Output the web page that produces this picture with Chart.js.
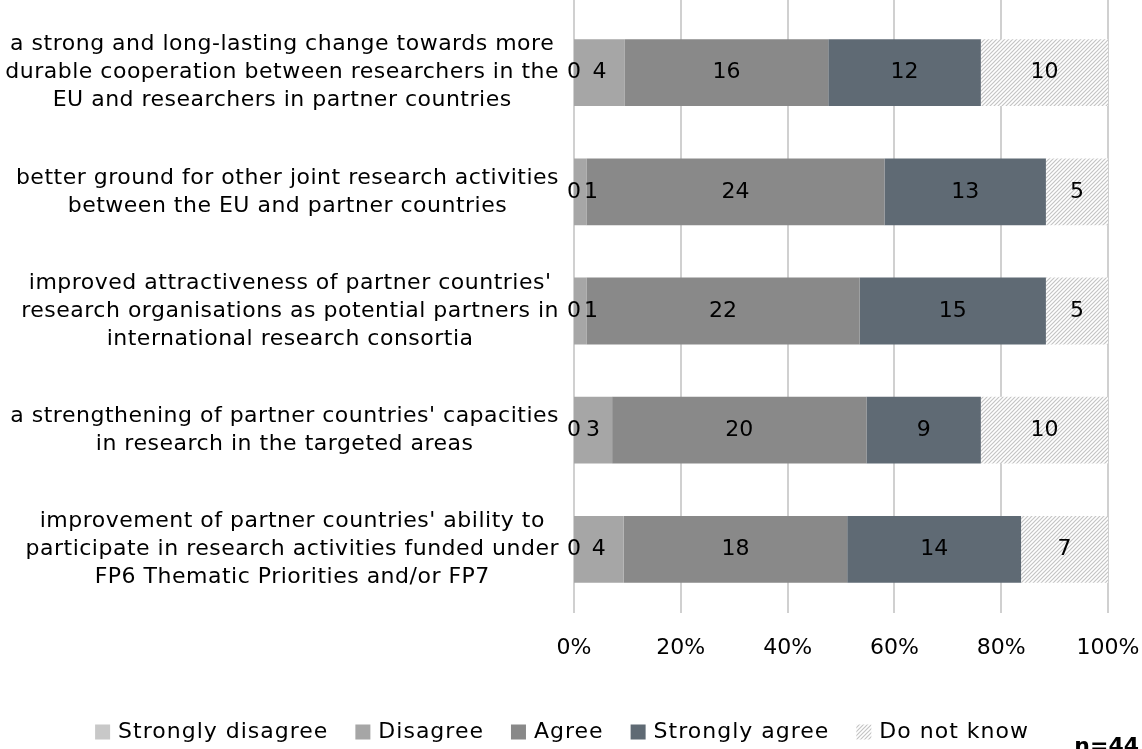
<!DOCTYPE html>
<html lang="en">
<head>
    <meta charset="UTF-8">
    <title>Partner countries survey</title>
    <style>
        html, body { margin: 0; padding: 0; background: #fff; }
        .chart-container { width: 1142px; height: 749px; position: relative; }
    </style>
</head>
<body>
    <div class="chart-container">
        <canvas id="surveyChart"></canvas>
    </div>

    <script src="https://cdn.jsdelivr.net/npm/chart.js@4.4.1/dist/chart.umd.js"></script>

    <script>
        // statements (y categories), one array of lines each
        const categories = [
            ['a strong and long-lasting change towards more', 'durable cooperation between researchers in the', 'EU and researchers in partner countries'],
            ['better ground for other joint research activities', 'between the EU and partner countries'],
            ["improved attractiveness of partner countries'", 'research organisations as potential partners in', 'international research consortia'],
            ["a strengthening of partner countries' capacities", 'in research in the targeted areas'],
            ["improvement of partner countries' ability to", 'participate in research activities funded under', 'FP6 Thematic Priorities and/or FP7']
        ];

        // answer counts per statement
        const stronglyDisagree = [0, 0, 0, 0, 0];
        const disagree = [4, 1, 1, 3, 4];
        const agree = [16, 24, 22, 20, 18];
        const stronglyAgree = [12, 13, 15, 9, 14];
        const doNotKnow = [10, 5, 5, 10, 7];

        const xTicks = [0, 20, 40, 60, 80, 100];
        const sampleSize = 'n=44';

        const FONT = '"DejaVu Sans", Verdana, sans-serif';

        function hatchPattern() {
            const c = document.createElement('canvas');
            c.width = 4; c.height = 4;
            const g = c.getContext('2d');
            g.fillStyle = '#ffffff';
            g.fillRect(0, 0, 4, 4);
            g.strokeStyle = '#c4c4c4';
            g.lineWidth = 1.2;
            g.beginPath();
            g.moveTo(0, 4); g.lineTo(4, 0);
            g.moveTo(-1, 1); g.lineTo(1, -1);
            g.moveTo(3, 5); g.lineTo(5, 3);
            g.stroke();
            return g.createPattern(c, 'repeat');
        }

        const series = [
            { label: 'Strongly disagree', values: stronglyDisagree, color: '#c8c8c8' },
            { label: 'Disagree', values: disagree, color: '#a6a6a6' },
            { label: 'Agree', values: agree, color: '#898989' },
            { label: 'Strongly agree', values: stronglyAgree, color: '#5f6a74' },
            { label: 'Do not know', values: doNotKnow, color: hatchPattern() }
        ];

        const totals = categories.map((c, i) => series.reduce((s, d) => s + d.values[i], 0));

        // grid lines run a bit past the plot area like the original
        const gridPlugin = {
            id: 'grid',
            beforeDatasetsDraw(chart) {
                const ctx = chart.ctx;
                const x = chart.scales.x;
                ctx.save();
                ctx.strokeStyle = '#d0d0d0';
                ctx.lineWidth = 2;
                xTicks.forEach(t => {
                    const px = Math.round(x.getPixelForValue(t));
                    ctx.beginPath();
                    ctx.moveTo(px, 0);
                    ctx.lineTo(px, chart.chartArea.bottom + 4);
                    ctx.stroke();
                });
                ctx.restore();
            }
        };

        // category labels: block right aligned, lines centred inside the block
        const catLabelPlugin = {
            id: 'catLabels',
            afterDraw(chart) {
                const ctx = chart.ctx;
                const y = chart.scales.y;
                const right = chart.chartArea.left - 15;
                const lh = 28;
                ctx.save();
                ctx.font = '22px ' + FONT;
                ctx.letterSpacing = '0.5px';
                ctx.fillStyle = '#000';
                ctx.textAlign = 'center';
                ctx.textBaseline = 'middle';
                categories.forEach((lines, i) => {
                    const w = Math.max(...lines.map(l => ctx.measureText(l).width));
                    const cx = right - w / 2;
                    const cy = y.getPixelForValue(i);
                    lines.forEach((l, j) => {
                        ctx.fillText(l, cx, cy + (j - (lines.length - 1) / 2) * lh);
                    });
                });
                ctx.restore();
            }
        };

        // raw counts on the bars, nudged right when they would collide
        const valueLabelPlugin = {
            id: 'valueLabels',
            afterDatasetsDraw(chart) {
                const ctx = chart.ctx;
                ctx.save();
                ctx.font = '22px ' + FONT;
                ctx.fillStyle = '#000';
                ctx.textAlign = 'center';
                ctx.textBaseline = 'middle';
                categories.forEach((c, i) => {
                    let prevRight = -Infinity;
                    series.forEach((s, d) => {
                        const bar = chart.getDatasetMeta(d).data[i];
                        const txt = String(s.values[i]);
                        const w = ctx.measureText(txt).width;
                        let cx = (bar.x + bar.base) / 2;
                        if (cx - w / 2 < prevRight + 3) cx = prevRight + 3 + w / 2;
                        ctx.fillText(txt, cx, bar.y);
                        prevRight = cx + w / 2;
                    });
                });
                ctx.restore();
            }
        };

        // legend row and the sample size note
        const legendPlugin = {
            id: 'legendRow',
            afterDraw(chart) {
                const ctx = chart.ctx;
                const box = 15, gapText = 8, gapItem = 27, cy = 732;
                ctx.save();
                ctx.font = '22px ' + FONT;
                ctx.letterSpacing = '1px';
                const widths = series.map(s => ctx.measureText(s.label).width);
                const total = widths.reduce((a, w) => a + box + gapText + w, 0) + gapItem * (series.length - 1);
                let x = 562 - total / 2;
                ctx.textBaseline = 'middle';
                ctx.textAlign = 'left';
                series.forEach((s, i) => {
                    ctx.fillStyle = s.color;
                    ctx.fillRect(x, cy - box / 2, box, box);
                    ctx.fillStyle = '#000';
                    ctx.fillText(s.label, x + box + gapText, cy);
                    x += box + gapText + widths[i] + gapItem;
                });

                ctx.letterSpacing = '0px';
                ctx.font = 'bold 22px ' + FONT;
                ctx.textAlign = 'right';
                ctx.textBaseline = 'alphabetic';
                ctx.fillText(sampleSize, 1139, 753);
                ctx.restore();
            }
        };

        Chart.defaults.font.family = FONT;
        Chart.defaults.font.size = 22;
        Chart.defaults.color = '#000';

        const ctx = document.getElementById('surveyChart');
        new Chart(ctx, {
            type: 'bar',
            data: {
                labels: categories.map((c, i) => String(i)),
                datasets: series.map(s => ({
                    label: s.label,
                    data: s.values.map((v, i) => v / totals[i] * 100),
                    backgroundColor: s.color,
                    borderWidth: 0,
                    barPercentage: 0.56,
                    categoryPercentage: 1
                }))
            },
            options: {
                indexAxis: 'y',
                responsive: true,
                maintainAspectRatio: false,
                animation: false,
                layout: { padding: { top: 13, right: 0, bottom: 0, left: 0 } },
                scales: {
                    x: {
                        stacked: true,
                        min: 0,
                        max: 100,
                        grid: { display: false },
                        border: { display: false },
                        ticks: {
                            stepSize: 20,
                            padding: 18,
                            maxRotation: 0,
                            font: { size: 22 },
                            callback: v => v + '%'
                        },
                        afterFit: s => {
                            s.height = 140;
                            s.paddingLeft = 0;
                            s.paddingRight = 34;
                        }
                    },
                    y: {
                        stacked: true,
                        grid: { display: false },
                        border: { display: false },
                        ticks: { display: false },
                        afterFit: s => { s.width = 574; }
                    }
                },
                plugins: {
                    legend: { display: false },
                    tooltip: { enabled: false }
                }
            },
            plugins: [gridPlugin, catLabelPlugin, valueLabelPlugin, legendPlugin]
        });
    </script>
</body>
</html>
